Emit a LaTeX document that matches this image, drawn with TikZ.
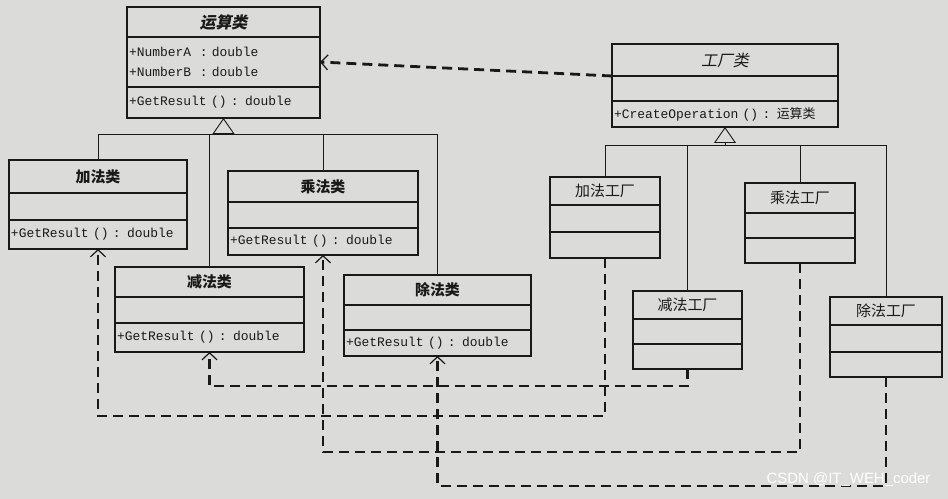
\documentclass[tikz,border=0pt]{standalone}
\usepackage{fontspec}
\setmonofont{Liberation Mono}
\newfontfamily\cjk{Noto Sans CJK SC}
\newfontfamily\cjkslant[FakeSlant=0.2]{Noto Sans CJK SC}
\newfontfamily\wmfont{Liberation Sans}
\usepackage{xcolor}
\definecolor{paper}{RGB}{219,219,217}
\definecolor{ink}{RGB}{25,25,25}
\usepackage{tikz}
\usetikzlibrary{arrows.meta,positioning}
\tikzset{
  umltitle/.style={draw=ink,fill=paper,line width=1.2bp,text width=#1,align=center,%
    inner xsep=2bp,inner ysep=0pt,outer sep=0pt,text=ink,font=\fontsize{15}{17}\selectfont\cjk},
  umlbody/.style={draw=ink,fill=paper,line width=1.2bp,text width=#1,align=left,%
    inner xsep=2bp,inner ysep=0pt,outer sep=0pt,text=ink,font=\fontsize{13}{20}\selectfont\ttfamily},
  inherit/.style={draw=ink,line width=0.8bp},
  gentip/.style={-{Triangle[length=16bp,width=22bp,fill=paper,line width=0.9bp]}},
  depend/.style={draw=ink,line width=2.8bp,dash pattern=on 10bp off 6bp,%
    -{Straight Barb[length=7bp,width=15bp,line width=1.2bp]}},
}

\begin{document}
\begin{tikzpicture}[x=1bp,y=-1bp]
\fill[paper] (0,0) rectangle (948,499);
\useasboundingbox (0,0) rectangle (948,499);
% operation classes
\node[umltitle=189bp,minimum height=30bp,anchor=north] (op) at (223.5,7) {\fontsize{16}{18}\selectfont\cjkslant\bfseries 运算类};
\node[umlbody=189bp,minimum height=50bp,below=0pt of op] (opattr) {+NumberA\ \ : double\\+NumberB\ \ : double};
\node[umlbody=189bp,minimum height=31bp,below=0pt of opattr] (opm) {+GetResult () : double};

\node[umltitle=174bp,minimum height=33bp,anchor=north] (add) at (98,160) {\bfseries 加法类};
\node[umlbody=174bp,minimum height=27bp,below=0pt of add] (addattr) {};
\node[umlbody=174bp,minimum height=29bp,below=0pt of addattr] (addm) {+GetResult () : double};

\node[umltitle=186bp,minimum height=31bp,anchor=north] (mul) at (323,171) {\bfseries 乘法类};
\node[umlbody=186bp,minimum height=26bp,below=0pt of mul] (mulattr) {};
\node[umlbody=186bp,minimum height=27bp,below=0pt of mulattr] (mulm) {+GetResult () : double};

\node[umltitle=185bp,minimum height=30bp,anchor=north] (sub) at (209.5,267) {\bfseries 减法类};
\node[umlbody=185bp,minimum height=26bp,below=0pt of sub] (subattr) {};
\node[umlbody=185bp,minimum height=29bp,below=0pt of subattr] (subm) {+GetResult () : double};

\node[umltitle=183bp,minimum height=30bp,anchor=north] (div) at (437.5,275) {\bfseries 除法类};
\node[umlbody=183bp,minimum height=25bp,below=0pt of div] (divattr) {};
\node[umlbody=183bp,minimum height=26bp,below=0pt of divattr] (divm) {+GetResult () : double};

% factory classes
\node[umltitle=222bp,minimum height=32bp,anchor=north] (fac) at (725,44) {\fontsize{16}{18}\selectfont\cjkslant 工厂类};
\node[umlbody=222bp,minimum height=25bp,below=0pt of fac] (facattr) {};
\node[umlbody=222bp,minimum height=26bp,below=0pt of facattr] (facm) {+CreateOperation () : {\cjk 运算类}};

\node[umltitle=106bp,minimum height=28bp,anchor=north] (addf) at (605,177) {加法工厂};
\node[umlbody=106bp,minimum height=27bp,below=0pt of addf] (addfattr) {};
\node[umlbody=106bp,minimum height=26bp,below=0pt of addfattr] (addfm) {};

\node[umltitle=105bp,minimum height=28bp,anchor=north] (subf) at (687.5,291) {减法工厂};
\node[umlbody=105bp,minimum height=25bp,below=0pt of subf] (subfattr) {};
\node[umlbody=105bp,minimum height=25bp,below=0pt of subfattr] (subfm) {};

\node[umltitle=106bp,minimum height=30bp,anchor=north] (mulf) at (800,183) {乘法工厂};
\node[umlbody=106bp,minimum height=25bp,below=0pt of mulf] (mulfattr) {};
\node[umlbody=106bp,minimum height=25bp,below=0pt of mulfattr] (mulfm) {};

\node[umltitle=108bp,minimum height=28bp,anchor=north] (divf) at (886,297) {除法工厂};
\node[umlbody=108bp,minimum height=27bp,below=0pt of divf] (divfattr) {};
\node[umlbody=108bp,minimum height=25bp,below=0pt of divfattr] (divfm) {};

% generalization
\coordinate (opbase) at ([yshift=-16bp]opm.south);
\foreach \c in {add,mul,sub,div} \draw[inherit] (\c.north) |- (opbase);
\draw[inherit,gentip] (opbase) -- (opm.south);
\coordinate (facbase) at ([yshift=-18bp]facm.south);
\foreach \c in {addf,subf,mulf,divf} \draw[inherit] (\c.north) |- (facbase);
\draw[inherit,gentip] (facbase) -- (facm.south);

% dependencies
\draw[depend] (fac.south west) -- (opattr.east);
\draw[depend] (addfm.south) -- ++(0,158) -| (addm.south);
\draw[depend] (subfm.south) -- ++(0,17) -| (subm.south);
\draw[depend] (mulfm.south) -- ++(0,189) -| (mulm.south);
\draw[depend] (divfm.south) -- ++(0,109) -| (divm.south);

\node[font=\fontsize{15}{17}\selectfont\wmfont,text=white,anchor=east] (wm) at (934,480) {CSDN @IT\_WEH\_coder};
\end{tikzpicture}
\end{document}
